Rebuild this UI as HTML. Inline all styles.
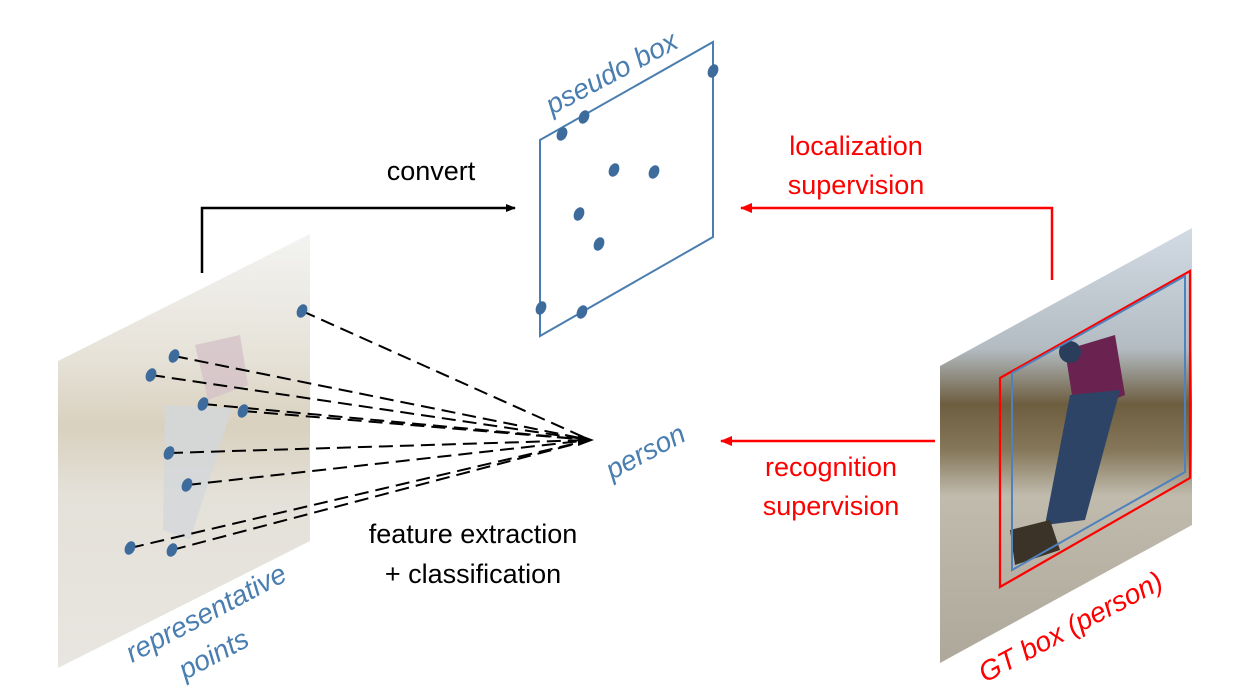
<!DOCTYPE html>
<html><head><meta charset="utf-8"><style>
html,body{margin:0;padding:0;background:#fff;width:1239px;height:692px;overflow:hidden}
text{font-family:"Liberation Sans","DejaVu Sans",sans-serif}
</style></head><body>
<svg width="1239" height="692" viewBox="0 0 1239 692" xmlns="http://www.w3.org/2000/svg">
<defs>
<clipPath id="cl"><polygon points="58,361 310,234 310,541 58,668"/></clipPath>
<clipPath id="cr"><polygon points="940,366 1192,228 1192,525 940,663"/></clipPath>
<linearGradient id="gL" x1="0" y1="0" x2="0" y2="1">
<stop offset="0" stop-color="#f4f5f4"/><stop offset="0.3" stop-color="#e6e2d8"/><stop offset="0.45" stop-color="#d9d1bf"/><stop offset="0.6" stop-color="#e4e1d9"/><stop offset="1" stop-color="#e9e6e1"/></linearGradient>
<linearGradient id="gR" x1="0" y1="0" x2="0" y2="1">
<stop offset="0" stop-color="#d4dde6"/><stop offset="0.28" stop-color="#b3bcc2"/><stop offset="0.4" stop-color="#6e5e40"/><stop offset="0.5" stop-color="#85775a"/><stop offset="0.6" stop-color="#c0bbad"/><stop offset="1" stop-color="#aca699"/></linearGradient>
<marker id="ab" markerWidth="10" markerHeight="10" refX="9" refY="5" orient="auto" markerUnits="userSpaceOnUse"><path d="M0,1 L10,5 L0,9 z" fill="#000"/></marker>
<marker id="ar" markerWidth="12" markerHeight="12" refX="11" refY="6" orient="auto" markerUnits="userSpaceOnUse"><path d="M0,1 L12,6 L0,11 z" fill="#f00"/></marker>
</defs>
<g clip-path="url(#cl)">
<rect x="50" y="220" width="270" height="460" fill="url(#gL)"/>
<polygon points="195,345 240,335 248,385 208,400" fill="#d4c2c8" opacity="0.8"/>
<polygon points="165,405 232,408 190,540 163,530" fill="#d3d7db" opacity="0.8"/>
</g>
<g clip-path="url(#cr)">
<rect x="930" y="220" width="270" height="460" fill="url(#gR)"/>
<polygon points="1065,350 1115,335 1125,395 1075,415" fill="#6a2250"/>
<polygon points="1070,395 1120,390 1085,520 1045,525" fill="#2d4466"/>
<circle cx="1070" cy="352" r="11" fill="#2a3e5c"/>
<polygon points="1010,530 1050,520 1060,550 1015,565" fill="#3b3328"/>
</g>
<polygon points="1000,378 1190,271 1190,478 1000,587" fill="none" stroke="#f00" stroke-width="2.2"/>
<polygon points="1012,373 1185,276 1185,472 1012,570" fill="none" stroke="#4f81bd" stroke-width="2"/>
<polygon points="540,140 713,42 713,237 540,336" fill="none" stroke="#4a7eb0" stroke-width="2"/>
<g fill="#3d6b9c">
<ellipse cx="562" cy="134" rx="5" ry="7" transform="rotate(25 562 134)"/>
<ellipse cx="584" cy="117" rx="5" ry="7" transform="rotate(25 584 117)"/>
<ellipse cx="713" cy="71" rx="5" ry="7" transform="rotate(25 713 71)"/>
<ellipse cx="614" cy="170" rx="5" ry="7" transform="rotate(25 614 170)"/>
<ellipse cx="654" cy="172" rx="5" ry="7" transform="rotate(25 654 172)"/>
<ellipse cx="579" cy="214" rx="5" ry="7" transform="rotate(25 579 214)"/>
<ellipse cx="599" cy="244" rx="5" ry="7" transform="rotate(25 599 244)"/>
<ellipse cx="541" cy="308" rx="5" ry="7" transform="rotate(25 541 308)"/>
<ellipse cx="582" cy="312" rx="5" ry="7" transform="rotate(25 582 312)"/>
</g>
<g stroke="#000" stroke-width="2" stroke-dasharray="14,7" fill="none">
<line x1="302" y1="311" x2="590" y2="440"/>
<line x1="174" y1="356" x2="590" y2="440"/>
<line x1="151" y1="375" x2="590" y2="440"/>
<line x1="203" y1="404" x2="590" y2="440"/>
<line x1="243" y1="411" x2="590" y2="440"/>
<line x1="169" y1="453" x2="590" y2="440"/>
<line x1="187" y1="485" x2="590" y2="440"/>
<line x1="130" y1="548" x2="590" y2="440"/>
<line x1="172" y1="550" x2="590" y2="440"/>
</g>
<path d="M578,434 L594,440 L578,446 z" fill="#000"/>
<g fill="#3d6b9c">
<ellipse cx="302" cy="311" rx="5" ry="7" transform="rotate(25 302 311)"/>
<ellipse cx="174" cy="356" rx="5" ry="7" transform="rotate(25 174 356)"/>
<ellipse cx="151" cy="375" rx="5" ry="7" transform="rotate(25 151 375)"/>
<ellipse cx="203" cy="404" rx="5" ry="7" transform="rotate(25 203 404)"/>
<ellipse cx="243" cy="411" rx="5" ry="7" transform="rotate(25 243 411)"/>
<ellipse cx="169" cy="453" rx="5" ry="7" transform="rotate(25 169 453)"/>
<ellipse cx="187" cy="485" rx="5" ry="7" transform="rotate(25 187 485)"/>
<ellipse cx="130" cy="548" rx="5" ry="7" transform="rotate(25 130 548)"/>
<ellipse cx="172" cy="550" rx="5" ry="7" transform="rotate(25 172 550)"/>
</g>
<polyline points="202,273 202,208 515,208" fill="none" stroke="#000" stroke-width="2.5" marker-end="url(#ab)"/>
<polyline points="1052,280 1052,208 741,208" fill="none" stroke="#f00" stroke-width="2.5" marker-end="url(#ar)"/>
<line x1="935" y1="441" x2="721" y2="441" stroke="#f00" stroke-width="2.5" marker-end="url(#ar)"/>
<text x="431" y="180" font-size="27" text-anchor="middle" fill="#000">convert</text>
<text x="856" y="155" font-size="27" text-anchor="middle" fill="#f00">localization</text>
<text x="856" y="194" font-size="27" text-anchor="middle" fill="#f00">supervision</text>
<text x="831" y="476" font-size="27" text-anchor="middle" fill="#f00">recognition</text>
<text x="831" y="515" font-size="27" text-anchor="middle" fill="#f00">supervision</text>
<text x="473" y="543" font-size="27" text-anchor="middle" fill="#000">feature extraction</text>
<text x="473" y="583" font-size="27" text-anchor="middle" fill="#000">+ classification</text>
<text x="0" y="0" font-size="28" font-style="italic" fill="#4a7eb0" transform="translate(552,115) rotate(-28)">pseudo box</text>
<text x="0" y="0" font-size="28" font-style="italic" fill="#4a7eb0" transform="translate(612,480) rotate(-28)">person</text>
<text x="0" y="0" font-size="28" font-style="italic" fill="#4a7eb0" transform="translate(132,663) rotate(-28)">representative</text>
<text x="0" y="0" font-size="28" font-style="italic" fill="#4a7eb0" transform="translate(185,680) rotate(-28)">points</text>
<text x="0" y="0" font-size="28" font-style="italic" fill="#f00" transform="translate(985,683) rotate(-28)">GT box (person)</text>
</svg>
</body></html>
